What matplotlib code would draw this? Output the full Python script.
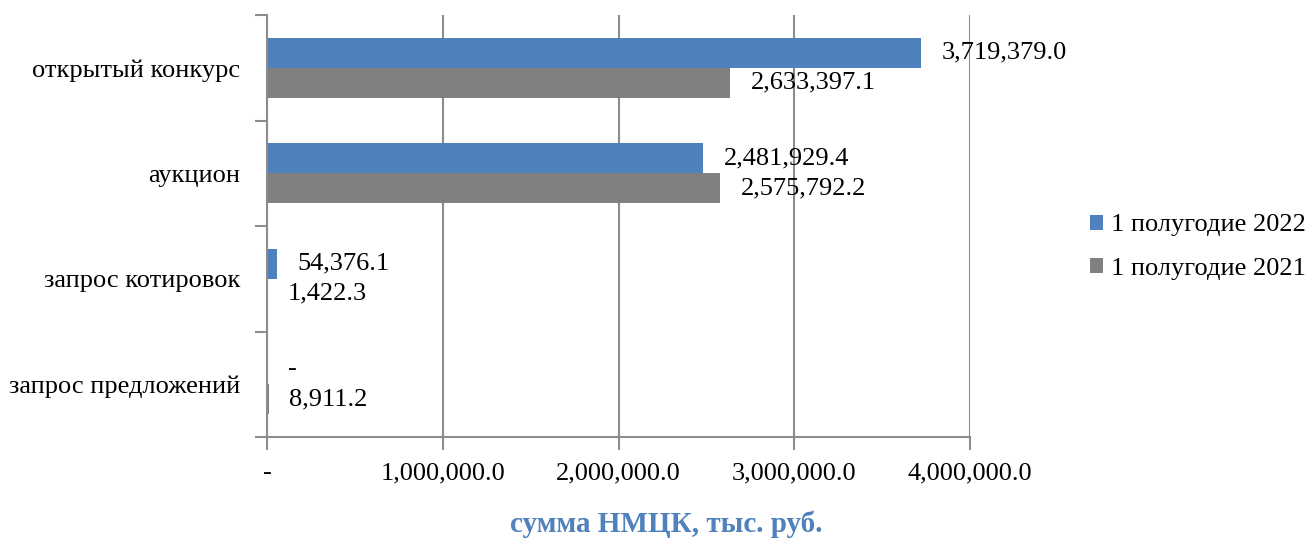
import numpy as np
import matplotlib.pyplot as plt

# Data
categories = ["открытый конкурс", "аукцион", "запрос котировок", "запрос предложений"]
series_names = ["1 полугодие 2022", "1 полугодие 2021"]
values_2022 = [3719379.0, 2481929.4, 54376.1, 0.0]
values_2021 = [2633397.1, 2575792.2, 1422.3, 8911.2]
x_ticks = [0, 1000000, 2000000, 3000000, 4000000]
x_tick_labels = ["-", "1,000,000.0", "2,000,000.0", "3,000,000.0", "4,000,000.0"]
x_label = "сумма НМЦК, тыс. руб."

blue = "#4F81BD"
grey = "#808080"
axis_grey = "#8C8C8C"

plt.rcParams['font.family'] = ['Liberation Serif', 'DejaVu Serif']
fs = 19

fig = plt.figure(figsize=(13.1, 5.4), dpi=100)
ax = fig.add_axes([267 / 1310, 103 / 540, 703 / 1310, 422 / 540])

y = np.arange(len(categories))
h = 0.284
bars1 = ax.barh(y - h / 2, values_2022, height=h, color=blue, label=series_names[0])
bars2 = ax.barh(y + h / 2, values_2021, height=h, color=grey, label=series_names[1])


def fmt(v):
    if v == 0:
        return "-"
    return "{:,.1f}".format(v)


for bars, vals in ((bars1, values_2022), (bars2, values_2021)):
    for b, v in zip(bars, vals):
        ax.annotate(fmt(v), xy=(b.get_width(), b.get_y() + b.get_height() / 2),
                    xytext=(15, 0), textcoords="offset points",
                    ha="left", va="center", fontsize=fs, color="black")

ax.set_xlim(0, 4000000)
ax.set_ylim(len(categories) - 0.5, -0.5)

ax.set_xticks(x_ticks)
ax.set_xticklabels(x_tick_labels, fontsize=fs)
ax.set_yticks(y)
ax.set_yticklabels(categories, fontsize=fs)
ax.set_yticks(np.arange(len(categories) + 1) - 0.5, minor=True)

ax.tick_params(axis="y", which="major", length=0, pad=19)
ax.tick_params(axis="y", which="minor", length=9, width=1.5, color=axis_grey)
ax.tick_params(axis="x", which="major", length=9, width=1.5, color=axis_grey, pad=9)

ax.grid(axis="x", color=axis_grey, linewidth=1.5)
ax.set_axisbelow(True)
for s in ["top", "right"]:
    ax.spines[s].set_visible(False)
for s in ["left", "bottom"]:
    ax.spines[s].set_color(axis_grey)
    ax.spines[s].set_linewidth(1.5)

fig.text(666 / 1310, 2 / 540, x_label, fontsize=21, fontweight="bold", color=blue,
         ha="center", va="bottom")

ax.legend(loc="center left", bbox_to_anchor=(1066 / 1310, (540 - 247) / 540),
          bbox_transform=fig.transFigure, frameon=False, fontsize=fs,
          handlelength=0.5, handleheight=0.5, handletextpad=0.3, labelspacing=0.8)

fig.savefig("out.png", dpi=100)
